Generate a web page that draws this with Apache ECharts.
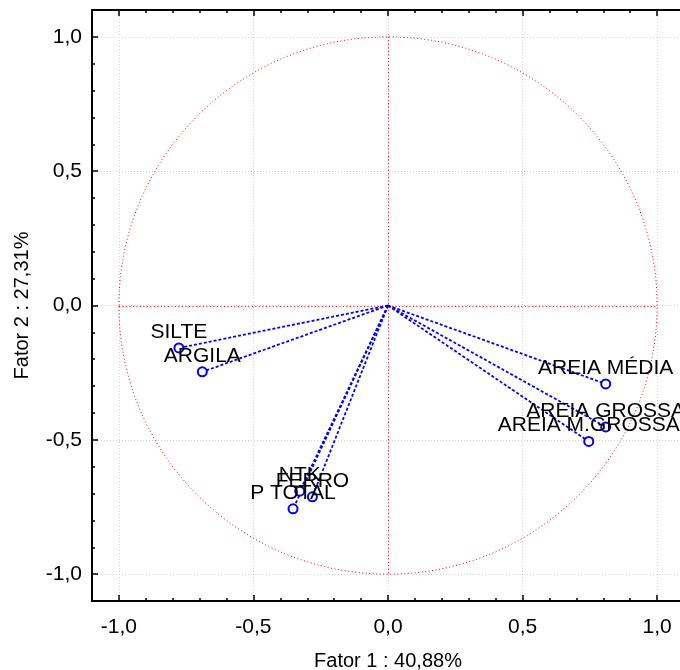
<!DOCTYPE html>
<html>
<head>
<meta charset="utf-8">
<script src="https://cdn.jsdelivr.net/npm/echarts@6/dist/echarts.min.js"></script>
<style>html,body{margin:0;padding:0;background:#fff}#c{width:680px;height:670px}</style>
</head>
<body>
<div id="c"></div>
<script>
const varNames = ['SILTE', 'ARGILA', 'AREIA MÉDIA', 'AREIA GROSSA', 'AREIA M.GROSSA', 'NTK', 'FERRO', 'P TOTAL'];
const fator1 = [-0.777, -0.690, 0.809, 0.809, 0.746, -0.328, -0.281, -0.353];
const fator2 = [-0.158, -0.247, -0.292, -0.452, -0.506, -0.691, -0.712, -0.757];
const tickValues = [-1, -0.5, 0, 0.5, 1];
const axisMin = -1.1, axisMax = 1.1;
const xName = 'Fator 1 : 40,88%';
const yName = 'Fator 2 : 27,31%';

const FONT = 'Liberation Sans, Arial, sans-serif';
const FS = 21;
const fmt = v => Math.abs(v) < 1e-9 ? '0,0' : v.toFixed(1).replace('.', ',');

function majorAxis(pos, withLabels, name) {
  return {
    type: 'value', min: axisMin, max: axisMax, position: pos, gridIndex: 0,
    axisLine: { show: true, onZero: false, lineStyle: { color: '#000', width: 2 } },
    axisTick: { show: true, inside: true, length: 6, customValues: tickValues, lineStyle: { color: '#000', width: 1.5 } },
    axisLabel: withLabels ? { show: true, customValues: tickValues, formatter: fmt, fontSize: FS, color: '#000', fontFamily: FONT, margin: pos === 'bottom' ? 16 : 10 } : { show: false },
    splitLine: withLabels ? { show: true, lineStyle: { color: '#d2d2d2', type: [1, 2], width: 1 } } : { show: false },
    name: name || '', nameLocation: 'middle',
    nameGap: pos === 'bottom' ? 50 : 60,
    nameTextStyle: { fontSize: 20, color: '#000', fontFamily: FONT }
  };
}
function minorAxis(pos) {
  return {
    type: 'value', min: axisMin, max: axisMax, interval: 0.1, position: pos, gridIndex: 0,
    axisLine: { show: false, onZero: false },
    axisTick: { show: true, inside: true, length: 3, lineStyle: { color: '#000', width: 1.5 } },
    axisLabel: { show: false }, splitLine: { show: false }
  };
}

const series = [];
// unit circle and center cross (reference shapes drawn through the axes' scales)
series.push({
  type: 'custom', xAxisIndex: 0, yAxisIndex: 0, z: 2, silent: true,
  data: [[0, 0]],
  renderItem: function (params, api) {
    const c = api.coord([0, 0]);
    const r = api.size([1, 1]);
    const L = api.coord([-1, 0]), R = api.coord([1, 0]);
    const T = api.coord([0, 1]), B = api.coord([0, -1]);
    const cy = Math.round(c[1]) + 0.5, cx = Math.round(c[0]) + 0.5;
    const st = { stroke: '#ff0000', lineWidth: 1, lineDash: [1, 2.5], fill: null };
    return {
      type: 'group', children: [
        { type: 'ellipse', shape: { cx: c[0], cy: c[1], rx: r[0], ry: r[1] }, style: st },
        { type: 'line', shape: { x1: L[0], y1: cy, x2: R[0], y2: cy }, style: st },
        { type: 'line', shape: { x1: cx, y1: T[1], x2: cx, y2: B[1] }, style: st }
      ]
    };
  }
});
varNames.forEach((n, i) => {
  series.push({
    type: 'line', name: n, xAxisIndex: 0, yAxisIndex: 0, z: 3,
    symbol: 'emptyCircle', symbolSize: 9,
    lineStyle: { color: '#0000ff', width: 1.8, type: [3, 2] },
    itemStyle: { color: '#0000ff', borderColor: '#0000ff', borderWidth: 1.5 },
    label: { show: true, position: 'top', distance: 0, formatter: n, fontSize: FS, color: '#000', fontFamily: FONT },
    data: [
      { value: [0, 0], symbol: 'none', label: { show: false } },
      { value: [fator1[i], fator2[i]] }
    ],
    animation: false
  });
});

const chart = echarts.init(document.getElementById('c'), null, { renderer: 'canvas' });
chart.setOption({
  backgroundColor: '#fff',
  animation: false,
  grid: { left: 92, top: 10, width: 592, height: 591, containLabel: false, outerBoundsMode: 'none' },
  xAxis: [majorAxis('bottom', true, xName), minorAxis('bottom'), majorAxis('top', false), minorAxis('top')],
  yAxis: [majorAxis('left', true, yName), minorAxis('left')],
  series: series
});
</script>
</body>
</html>
